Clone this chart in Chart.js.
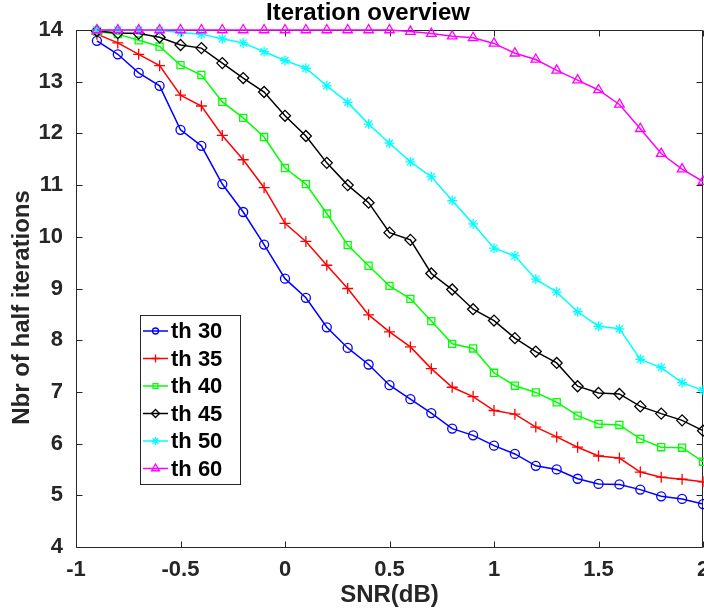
<!DOCTYPE html>
<html>
<head>
<meta charset="utf-8">
<script src="https://cdn.jsdelivr.net/npm/chart.js@4.4.1/dist/chart.umd.min.js"></script>
<style>
  html, body { margin: 0; padding: 0; background: #fff; }
  #wrap { width: 704px; height: 613px; }
</style>
</head>
<body>
<div id="wrap"><canvas id="c" width="704" height="613"></canvas></div>
<script>
// ---- data ----
const snr = [-0.9, -0.8, -0.7, -0.6, -0.5, -0.4, -0.3, -0.2, -0.1, 0.0,
              0.1,  0.2,  0.3,  0.4,  0.5,  0.6,  0.7,  0.8,  0.9, 1.0,
              1.1,  1.2,  1.3,  1.4,  1.5,  1.6,  1.7,  1.8,  1.9, 2.0];

const th30 = [13.79, 13.53, 13.17, 12.92, 12.07, 11.76, 11.02, 10.48, 9.85, 9.19,
              8.82, 8.25, 7.85, 7.53, 7.13, 6.86, 6.59, 6.29, 6.16, 5.96,
              5.80, 5.57, 5.50, 5.32, 5.22, 5.21, 5.11, 4.98, 4.93, 4.83];
const th35 = [13.92, 13.75, 13.53, 13.31, 12.74, 12.53, 11.96, 11.49, 10.95, 10.26,
              9.91, 9.45, 9.00, 8.49, 8.16, 7.87, 7.45, 7.09, 6.91, 6.64,
              6.57, 6.32, 6.13, 5.93, 5.76, 5.72, 5.45, 5.35, 5.31, 5.26];
const th40 = [13.97, 13.92, 13.80, 13.68, 13.32, 13.13, 12.61, 12.30, 11.93, 11.33,
              11.02, 10.45, 9.84, 9.44, 9.05, 8.80, 8.37, 7.93, 7.84, 7.37,
              7.12, 6.99, 6.80, 6.54, 6.38, 6.36, 6.09, 5.93, 5.92, 5.65];
const th45 = [13.98, 13.94, 13.93, 13.86, 13.71, 13.65, 13.36, 13.07, 12.80, 12.34,
              11.95, 11.43, 11.00, 10.66, 10.08, 9.94, 9.29, 8.98, 8.60, 8.38,
              8.04, 7.78, 7.56, 7.11, 6.98, 6.96, 6.72, 6.58, 6.45, 6.25];
const th50 = [14.00, 14.00, 14.00, 13.99, 13.95, 13.92, 13.83, 13.75, 13.58, 13.41,
              13.26, 12.92, 12.60, 12.18, 11.81, 11.45, 11.16, 10.70, 10.25, 9.78,
              9.63, 9.18, 8.93, 8.55, 8.27, 8.22, 7.63, 7.47, 7.18, 7.03];
const th60 = [14.00, 14.00, 14.00, 14.00, 14.00, 14.00, 14.00, 14.00, 14.00, 14.00,
              14.00, 14.00, 14.00, 14.00, 14.00, 13.97, 13.93, 13.88, 13.85, 13.74,
              13.55, 13.43, 13.22, 13.03, 12.84, 12.56, 12.09, 11.61, 11.31, 11.07];

const seriesLabels = ['th 30', 'th 35', 'th 40', 'th 45', 'th 50', 'th 60'];
const seriesValues = [th30, th35, th40, th45, th50, th60];

const xTickValues = [-1, -0.5, 0, 0.5, 1, 1.5, 2];
const xTickLabels = ['-1', '-0.5', '0', '0.5', '1', '1.5', '2'];
const yTickValues = [4, 5, 6, 7, 8, 9, 10, 11, 12, 13, 14];
const yTickLabels = ['4', '5', '6', '7', '8', '9', '10', '11', '12', '13', '14'];

// ---- styles ----
const FONT = "'Liberation Sans', Arial, Helvetica, sans-serif";
const AXIS_COLOR = '#262626';
const colors = ['#0000ff', '#ff0000', '#00ff00', '#000000', '#00ffff', '#ff00ff'];
const markers = ['circle', 'cross', 'rect', 'rectRot', 'star', 'triangle'];
const markerRadius = [4.5, 5.5, 5, 5.5, 5, 5.5];
const legendMarkerRadius = [3, 4, 3.5, 4, 4, 4.5];
const yTitleShift = 19;

const datasets = seriesValues.map((vals, i) => ({
  label: seriesLabels[i],
  data: vals.map((v, k) => ({ x: snr[k], y: v })),
  borderColor: colors[i],
  backgroundColor: 'rgba(0,0,0,0)',
  pointBackgroundColor: 'rgba(0,0,0,0)',
  pointBorderColor: colors[i],
  pointStyle: markers[i],
  pointRadius: markerRadius[i],
  pointBorderWidth: 1.3,
  borderWidth: 1.5,
  tension: 0,
  clip: false,
  order: seriesValues.length - 1 - i
}));

function tickLabel(values, labels, v) {
  const k = values.findIndex(t => Math.abs(t - v) < 1e-6);
  return k >= 0 ? labels[k] : '';
}

const zeroPad = () => ({ left: 0, top: 0, right: 0, bottom: 0 });

const matlabPlugin = {
  id: 'matlabLook',
  afterLayout(chart) {
    if (chart.titleBlock) {
      chart.titleBlock.left = 32;
      chart.titleBlock.right = chart.width;
    }
  },
  beforeDatasetsDraw(chart) {
    const { ctx, chartArea: a, scales } = chart;
    ctx.save();
    ctx.strokeStyle = AXIS_COLOR;
    ctx.lineWidth = 1;
    const L = a.left + 0.5, R = a.right - 0.5, T = a.top + 0.5, B = a.bottom + 0.5;
    ctx.beginPath();
    ctx.rect(L, T, R - L, B - T);
    ctx.stroke();
    const tl = 6;
    ctx.beginPath();
    scales.x.ticks.forEach(t => {
      const px = Math.round(scales.x.getPixelForValue(t.value)) + 0.5;
      ctx.moveTo(px, B); ctx.lineTo(px, B - tl);
      ctx.moveTo(px, T); ctx.lineTo(px, T + tl);
    });
    scales.y.ticks.forEach(t => {
      const py = Math.round(scales.y.getPixelForValue(t.value)) + 0.5;
      ctx.moveTo(L, py); ctx.lineTo(L + tl, py);
      ctx.moveTo(R, py); ctx.lineTo(R - tl, py);
    });
    ctx.stroke();
    ctx.restore();
  },
  afterDraw(chart) {
    const { ctx } = chart;
    const ds = chart.data.datasets;
    const bx = 140.5, by = 315.5, bw = 100, bh = 169;
    ctx.save();
    ctx.fillStyle = '#ffffff';
    ctx.fillRect(bx, by, bw, bh);
    ctx.strokeStyle = AXIS_COLOR;
    ctx.lineWidth = 1;
    ctx.strokeRect(bx, by, bw, bh);
    ctx.font = 'bold 22px ' + FONT;
    ctx.textBaseline = 'middle';
    ctx.textAlign = 'left';
    ds.forEach((d, i) => {
      const yy = 331 + i * 27.5;
      ctx.strokeStyle = d.borderColor;
      ctx.lineWidth = 1.5;
      ctx.beginPath();
      ctx.moveTo(143, yy); ctx.lineTo(168, yy);
      ctx.stroke();
      if (Chart.helpers && Chart.helpers.drawPoint) {
        ctx.lineWidth = 1.3;
        ctx.strokeStyle = d.borderColor;
        ctx.fillStyle = 'rgba(0,0,0,0)';
        Chart.helpers.drawPoint(ctx, { pointStyle: d.pointStyle, radius: legendMarkerRadius[i], rotation: 0, borderWidth: 1.3 }, 155.5, yy);
      }
      ctx.fillStyle = '#000000';
      ctx.fillText(d.label, 171, yy + 1);
    });
    ctx.restore();
  }
};

const chart = new Chart(document.getElementById('c'), {
  type: 'line',
  data: { datasets },
  plugins: [matlabPlugin],
  options: {
    responsive: false,
    animation: false,
    devicePixelRatio: 1,
    layout: { autoPadding: false, padding: { left: 0, right: 1, top: 0, bottom: 0 } },
    plugins: {
      legend: { display: false },
      tooltip: { enabled: false },
      title: {
        display: true,
        text: 'Iteration overview',
        color: '#000000',
        font: { family: FONT, size: 24, weight: 'bold', lineHeight: 1 },
        padding: { top: 1, bottom: 5 }
      }
    },
    scales: {
      x: {
        type: 'linear',
        min: -1, max: 2,
        grid: { display: false, drawTicks: false },
        border: { display: false },
        ticks: {
          stepSize: 0.5,
          autoSkip: false,
          maxRotation: 0,
          padding: 10,
          color: AXIS_COLOR,
          font: { family: FONT, size: 22, weight: 'bold' },
          callback: v => tickLabel(xTickValues, xTickLabels, v)
        },
        title: {
          display: true,
          text: 'SNR(dB)',
          color: AXIS_COLOR,
          font: { family: FONT, size: 24, weight: 'bold', lineHeight: 1 },
          padding: { top: 0, bottom: 6 }
        },
        afterFit(s) { s.height = 66; s.paddingLeft = 0; s.paddingRight = 0; s.getPadding = zeroPad; }
      },
      y: {
        type: 'linear',
        min: 4, max: 14,
        grid: { display: false, drawTicks: false },
        border: { display: false },
        ticks: {
          stepSize: 1,
          padding: 13,
          color: AXIS_COLOR,
          font: { family: FONT, size: 22, weight: 'bold' },
          callback: v => tickLabel(yTickValues, yTickLabels, v)
        },
        title: {
          display: true,
          text: 'Nbr of half iterations',
          color: AXIS_COLOR,
          font: { family: FONT, size: 24, weight: 'bold', lineHeight: 1 },
          padding: { top: 10, bottom: 0 }
        },
        afterFit(s) {
          s.width = 76; s.paddingTop = 0; s.paddingBottom = 0; s.getPadding = zeroPad;
          if (!s._shiftedTitle) {
            const orig = s.drawTitle;
            s.drawTitle = function () {
              this.ctx.save();
              this.ctx.translate(0, yTitleShift);
              orig.call(this);
              this.ctx.restore();
            };
            s._shiftedTitle = true;
          }
        }
      }
    }
  }
});
</script>
</body>
</html>
